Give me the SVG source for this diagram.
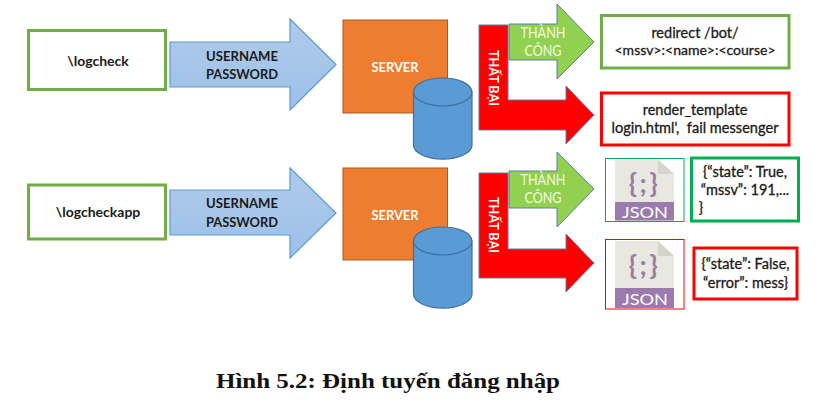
<svg xmlns="http://www.w3.org/2000/svg" width="816" height="411" viewBox="0 0 816 411">
<style>
text{font-family:"Lato","Open Sans",sans-serif;text-anchor:middle;white-space:pre}
.k{fill:#1a1a1a;font-size:14px;font-weight:700}
.m{fill:#1a1a1a;stroke:#1a1a1a;stroke-width:.3;font-size:14.500px;font-weight:400}
.w{fill:#fff;font-size:14px;font-weight:700}
.lt{fill:#f4fbe6;font-size:15px;font-weight:400}
.g{fill:#fff;stroke:#70ad47;stroke-width:3}
.r{fill:#fff;stroke:#f00;stroke-width:3}
.g2{fill:#fff;stroke:#00b050;stroke-width:3}
.blue{fill:url(#bg);stroke:#5b9bd5;stroke-width:1.2}
.server{fill:#ed7d31;stroke:#ae5a21;stroke-width:1}
.cyl{fill:#5b9bd5;stroke:#41719c;stroke-width:1.2}
.ga{fill:#92d050;stroke:#5b7ea6;stroke-width:1}
.ra{fill:#f00;stroke:#5b7ea6;stroke-width:1}
.page{fill:#e9e8e0}
.fold{fill:#d6d5cb}
.band{fill:#9b7bab}
.brace{fill:#9b7bab;font-size:27px;font-weight:700}
.js{fill:#fff;font-size:15.500px;font-weight:400}
</style>
<defs>
<linearGradient id="bg" x1="0" y1="0" x2="0" y2="1"><stop offset="0" stop-color="#b0cbea"/><stop offset="1" stop-color="#9cc0e8"/></linearGradient>
</defs>
<rect width="816" height="411" fill="#fff"/>
<g id="connectors">
<path class="blue" d="M170 42H290V19L336 64.500L290 110V87H170Z"/>
<path class="blue" d="M170 190H290V168L336 213L290 258V235H170Z"/>
<path class="ra" d="M479 25H508V100H566V86L594 115L566 144V130H479Z"/>
<path class="ga" d="M509 24H557V4L594 42L557 79V60H509Z"/>
<path class="ra" d="M479 173H508V249H566V234L594 263L566 292V278H479Z"/>
<path class="ga" d="M509 171H557V152L594 189L557 227V208H509Z"/>
</g>
<g id="labels">
<text class="k" x="242" y="60.500" textLength="72" lengthAdjust="spacingAndGlyphs">USERNAME</text>
<text class="k" x="242" y="78.500" textLength="72" lengthAdjust="spacingAndGlyphs">PASSWORD</text>
<text class="k" x="242" y="208" textLength="72" lengthAdjust="spacingAndGlyphs">USERNAME</text>
<text class="k" x="242" y="227" textLength="72" lengthAdjust="spacingAndGlyphs">PASSWORD</text>
<text class="lt" x="543" y="38" textLength="45" lengthAdjust="spacingAndGlyphs">THÀNH</text>
<text class="lt" x="543" y="55.500" textLength="37" lengthAdjust="spacingAndGlyphs">CÔNG</text>
<text class="lt" x="543" y="185" textLength="45" lengthAdjust="spacingAndGlyphs">THÀNH</text>
<text class="lt" x="543" y="203" textLength="37" lengthAdjust="spacingAndGlyphs">CÔNG</text>
<text class="w" transform="translate(488.500 78) rotate(90)" textLength="56" lengthAdjust="spacingAndGlyphs">THẤT BẠI</text>
<text class="w" transform="translate(488.500 225) rotate(90)" textLength="56" lengthAdjust="spacingAndGlyphs">THẤT BẠI</text>
</g>
<g id="n-logcheck"><rect class="g" x="28.500" y="30.500" width="137" height="59"/><text class="k" x="98" y="65.500">\logcheck</text></g>
<g id="n-logcheckapp"><rect class="g" x="28.500" y="185" width="137" height="54"/><text class="k" x="98" y="217">\logcheckapp</text></g>
<g id="n-server1"><rect class="server" x="343" y="20" width="104.500" height="93"/><text class="w" x="395" y="72" textLength="47" lengthAdjust="spacingAndGlyphs">SERVER</text></g>
<g id="n-db1"><path class="cyl" d="M413.500 92V145A29 14 0 0 0 472 145V92Z"/><ellipse class="cyl" cx="442.700" cy="92" rx="29.200" ry="14"/></g>
<g id="n-server2"><rect class="server" x="343" y="168" width="104.500" height="92"/><text class="w" x="395" y="220" textLength="47" lengthAdjust="spacingAndGlyphs">SERVER</text></g>
<g id="n-db2"><path class="cyl" d="M413.500 241V294A29 14 0 0 0 472 294V241Z"/><ellipse class="cyl" cx="442.700" cy="241" rx="29.200" ry="14"/></g>
<g id="n-redirect"><rect class="g" x="601.500" y="15.500" width="187.500" height="52.500"/><text x="695" y="38" class="m">redirect /bot/</text><text x="695" y="55" class="m" style="font-size:13.500px" textLength="161" lengthAdjust="spacingAndGlyphs">&lt;mssv&gt;:&lt;name&gt;:&lt;course&gt;</text></g>
<g id="n-render"><rect class="r" x="601.500" y="93" width="187.500" height="52"/><text x="695" y="115" class="m">render_template</text><text x="695" y="133" class="m" textLength="167" lengthAdjust="spacingAndGlyphs">login.html',  fail messenger</text></g>
<g id="n-json-ok">
<rect x="605.500" y="158.500" width="78.500" height="63" fill="#fff" stroke="#00b050" stroke-width="1"/>
<path class="page" d="M615 159.500H658L674 174V220.500H615Z"/><path class="fold" d="M658 159.500L674 174H658Z"/>
<rect class="band" x="615" y="202" width="59" height="18.500"/>
<text class="brace" x="644.500" y="193" letter-spacing="2.500">{;}</text><text class="js" x="645" y="218" textLength="46" lengthAdjust="spacingAndGlyphs">JSON</text>
</g>
<g id="n-json-ok-text"><rect class="g2" x="691.500" y="158" width="107" height="63"/>
<text class="m" x="745" y="177">{“state”: True,</text><text class="m" x="745" y="195">“mssv”: 191,...</text><text class="m" x="701" y="213">}</text></g>
<g id="n-json-fail">
<rect x="605.500" y="239.500" width="78.500" height="69.500" fill="#fff" stroke="#f00" stroke-width="1"/>
<path class="page" d="M615 241H658L674 256V308H615Z"/><path class="fold" d="M658 241L674 256H658Z"/>
<rect class="band" x="615" y="288" width="59" height="20"/>
<text class="brace" x="644.500" y="275" letter-spacing="2.500">{;}</text><text class="js" x="645" y="305" textLength="46" lengthAdjust="spacingAndGlyphs">JSON</text>
</g>
<g id="n-json-fail-text"><rect class="r" x="694" y="248" width="103" height="51"/>
<text class="m" x="745.500" y="269">{“state”: False,</text><text class="m" x="745.500" y="287.500">“error”: mess}</text></g>
<text x="388" y="387.500" textLength="344" lengthAdjust="spacingAndGlyphs" style="font-family:'Liberation Serif',serif;font-size:20px;font-weight:700;fill:#111">Hình 5.2: Định tuyến đăng nhập</text>
</svg>
